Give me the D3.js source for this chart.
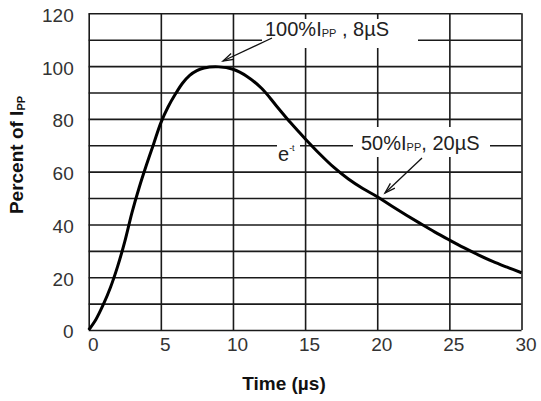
<!DOCTYPE html>
<html>
<head>
<meta charset="utf-8">
<script src="https://cdn.jsdelivr.net/npm/d3@7"></script>
<style>
  html, body { margin: 0; padding: 0; background: #fff; }
  svg { display: block; font-family: "Liberation Sans", Arial, sans-serif; }
</style>
</head>
<body>
<svg id="chart" width="541" height="401"></svg>
<script>
// ---- data ----
const xTicks = [0, 5, 10, 15, 20, 25, 30];
const yTicks = [0, 20, 40, 60, 80, 100, 120];
const yGrid  = [0, 10, 20, 30, 40, 50, 60, 70, 80, 90, 100, 110, 120];
const time    = [0, 0.5, 1, 1.5, 2, 2.5, 3, 3.5, 4, 4.5, 5, 5.5, 6, 6.5, 7, 7.5, 8, 9, 10, 11, 12, 13, 14, 15, 16, 17, 18, 19, 20, 21, 22, 23, 24, 25, 26, 27, 28, 29, 30];
const percent = [0, 4, 9.5, 16, 24, 33.5, 44.5, 54, 62.5, 70.5, 78.5, 84.5, 89.3, 93.5, 96.5, 98.3, 99.3, 99.7, 98.8, 96, 91.5, 85, 78.5, 72.5, 66.8, 61.6, 57.2, 53.6, 50.5, 47, 43.6, 40.3, 37.1, 34.1, 31.2, 28.5, 26, 23.8, 21.7];
const xTitle = "Time (µs)";
const yTitle = ["Percent of I", "PP"];
const peakLabel = ["100%I", "PP", " , 8µS"];
const halfLabel = ["50%I", "PP", ", 20µS"];
const decayLabel = ["e", "-t"];

// ---- layout ----
const svg = d3.select("#chart");
const x = d3.scaleLinear().domain([0, 30]).range([88.7, 521.5]);
const y = d3.scaleLinear().domain([0, 120]).range([330, 13.3]);
const gridColor = "#1a1a1a";

// vertical grid + x tick labels
const gx = svg.append("g").attr("transform", `translate(0,${y(0)})`)
  .call(d3.axisBottom(x).tickValues(xTicks).tickSize(-(y(0) - y(120))).tickPadding(8).tickFormat(d3.format("d")));
gx.select(".domain").remove();
gx.selectAll(".tick line").attr("stroke", gridColor).attr("stroke-width", 1.6);
gx.selectAll(".tick text").attr("fill", "#333").attr("font-size", 19).attr("dx", 4)
  .attr("font-family", "Liberation Sans, Arial, sans-serif");

// horizontal grid
const gy = svg.append("g").attr("transform", `translate(${x(0)},0)`)
  .call(d3.axisLeft(y).tickValues(yGrid).tickSize(-(x(30) - x(0))).tickPadding(15)
    .tickFormat(d => yTicks.includes(d) ? d : ""));
gy.select(".domain").remove();
gy.selectAll(".tick line").attr("stroke", gridColor).attr("stroke-width", 1.6);
gy.selectAll(".tick text").attr("fill", "#333").attr("font-size", 19).attr("dy", "0.42em")
  .attr("font-family", "Liberation Sans, Arial, sans-serif");

// white label boxes masking grid
const boxes = [
  { x0: 262, y0: 19, x1: 418, y1: 48 },
  { x0: 353, y0: 127, x1: 490, y1: 157 },
  { x0: 277, y0: 139, x1: 300, y1: 166 }
];
svg.append("g").selectAll("rect").data(boxes).join("rect")
  .attr("x", d => d.x0).attr("y", d => d.y0)
  .attr("width", d => d.x1 - d.x0).attr("height", d => d.y1 - d.y0)
  .attr("fill", "#fff");

// curve
const pts = time.map((t, i) => [t, percent[i]]);
svg.append("path").datum(pts)
  .attr("fill", "none").attr("stroke", "#000").attr("stroke-width", 3)
  .attr("stroke-linejoin", "round")
  .attr("d", d3.line().x(d => x(d[0])).y(d => y(d[1])).curve(d3.curveCatmullRom.alpha(0.5)));

// labels with subscript
function subLabel(parts, px, py, size) {
  const t = svg.append("text").attr("x", px).attr("y", py)
    .attr("font-size", size).attr("fill", "#222");
  t.append("tspan").text(parts[0]);
  t.append("tspan").text(parts[1]).attr("font-size", size * 0.55).attr("dy", 1);
  t.append("tspan").text(parts[2]).attr("dy", -1);
  return t;
}
subLabel(peakLabel, 265, 36, 20);
subLabel(halfLabel, 361, 150, 20);

// e^-t
const et = svg.append("text").attr("x", 278).attr("y", 161).attr("font-size", 20).attr("fill", "#222");
et.append("tspan").text(decayLabel[0]);
et.append("tspan").text(decayLabel[1]).attr("font-size", 9).attr("dy", -10).attr("dx", 0);

// arrows
function arrow(x0, y0, x1, y1) {
  const g = svg.append("g").attr("stroke", "#111").attr("stroke-width", 1.3).attr("fill", "none");
  g.append("line").attr("x1", x0).attr("y1", y0).attr("x2", x1).attr("y2", y1);
  const a = Math.atan2(y1 - y0, x1 - x0), L = 11, w = 0.3;
  g.append("path").attr("d",
    `M${x1 - L * Math.cos(a - w)},${y1 - L * Math.sin(a - w)}L${x1},${y1}L${x1 - L * Math.cos(a + w)},${y1 - L * Math.sin(a + w)}`);
}
arrow(272, 38, 223, 61);
arrow(422, 158, 385, 193);

// axis titles
svg.append("text").attr("x", 284).attr("y", 390).attr("text-anchor", "middle")
  .attr("font-size", 19).attr("font-weight", "bold").attr("fill", "#111").text(xTitle);
const yt = svg.append("text").attr("transform", "translate(23,155) rotate(-90)")
  .attr("text-anchor", "middle").attr("font-size", 19).attr("font-weight", "bold").attr("fill", "#111");
yt.append("tspan").text(yTitle[0]);
yt.append("tspan").text(yTitle[1]).attr("font-size", 11).attr("dy", 2);
</script>
</body>
</html>
